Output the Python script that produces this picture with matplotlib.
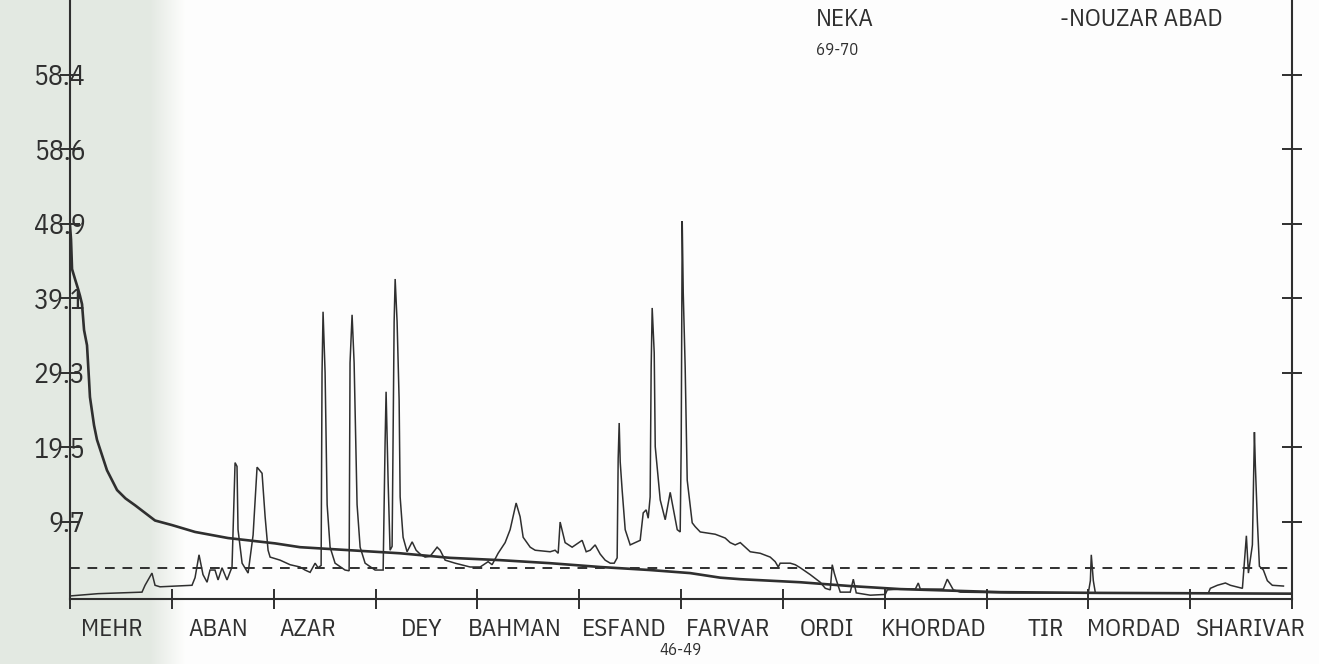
import numpy as np
import matplotlib
matplotlib.use("Agg")
import matplotlib.pyplot as plt
from matplotlib import font_manager as fm

# ---------------- data ----------------
months = ["MEHR", "ABAN", "AZAR", "DEY", "BAHMAN", "ESFAND", "FARVAR",
          "ORDI", "KHORDAD", "TIR", "MORDAD", "SHARIVAR"]
month_label_pos = [0.41, 1.46, 2.34, 3.45, 4.37, 5.44, 6.46, 7.43, 8.48, 9.58, 10.44, 11.59]

ytick_vals = [9.77, 19.54, 29.31, 39.08, 48.85, 58.62, 68.39]
ytick_labels = ["9.7", "19.5", "29.3", "39.1", "48.9", "58.6", "58.4"]

# daily discharge hydrograph (time in months from start of MEHR, value)
hydro_t = [0.000, 0.275, 0.707, 0.737, 0.805, 0.835, 0.884, 1.198, 1.228, 1.267,
           1.306, 1.346, 1.375, 1.424, 1.454, 1.493, 1.542, 1.591, 1.621, 1.640,
           1.650, 1.690, 1.749, 1.798, 1.837, 1.886, 1.916, 1.945, 1.965, 2.063,
           2.161, 2.259, 2.308, 2.358, 2.407, 2.436, 2.466, 2.475, 2.485, 2.505,
           2.525, 2.554, 2.603, 2.701, 2.741, 2.750, 2.770, 2.790, 2.819, 2.849,
           2.898, 2.996, 3.075, 3.094, 3.104, 3.124, 3.143, 3.163, 3.183, 3.193,
           3.212, 3.232, 3.242, 3.271, 3.310, 3.360, 3.399, 3.438, 3.487, 3.536,
           3.605, 3.635, 3.684, 3.782, 3.929, 4.028, 4.106, 4.145, 4.204, 4.273,
           4.322, 4.381, 4.420, 4.450, 4.519, 4.568, 4.715, 4.764, 4.794, 4.813,
           4.862, 4.931, 5.029, 5.069, 5.108, 5.157, 5.206, 5.255, 5.305, 5.344,
           5.373, 5.383, 5.393, 5.403, 5.422, 5.452, 5.501, 5.599, 5.629, 5.658,
           5.678, 5.697, 5.707, 5.717, 5.737, 5.747, 5.796, 5.845, 5.894, 5.963,
           5.992, 6.002, 6.012, 6.022, 6.041, 6.061, 6.110, 6.139, 6.189, 6.238,
           6.336, 6.434, 6.483, 6.532, 6.582, 6.631, 6.680, 6.778, 6.876, 6.925,
           6.955, 6.974, 7.073, 7.122, 7.171, 7.269, 7.367, 7.417, 7.466, 7.485,
           7.505, 7.525, 7.564, 7.662, 7.692, 7.721, 7.859, 8.006, 8.026, 8.153,
           8.301, 8.330, 8.350, 8.576, 8.615, 8.674, 8.743, 9.234, 10.000, 10.020,
           10.029, 10.049, 10.069, 11.179, 11.198, 11.267, 11.346, 11.395, 11.513, 11.552,
           11.572, 11.611, 11.631, 11.640, 11.660, 11.680, 11.719, 11.758, 11.807, 11.916]
hydro_q = [0.0, 0.3, 0.5, 1.4, 3.0, 1.4, 1.2, 1.4, 2.4, 5.4,
           2.8, 1.8, 3.4, 3.4, 2.1, 3.7, 2.1, 3.8, 17.5, 17.0,
           8.7, 4.3, 3.0, 8.0, 16.9, 16.1, 10.4, 6.0, 5.1, 4.7,
           4.1, 3.8, 3.4, 3.1, 4.3, 3.7, 4.0, 29.3, 37.3, 29.3,
           12.0, 6.4, 4.3, 3.4, 3.3, 30.6, 36.9, 30.6, 12.0, 6.4,
           4.3, 3.4, 3.4, 20.0, 26.8, 15.0, 6.0, 6.5, 36.0, 41.6,
           36.0, 25.7, 13.0, 7.7, 5.8, 7.1, 6.0, 5.5, 5.1, 5.2,
           6.4, 6.0, 4.7, 4.3, 3.8, 3.8, 4.5, 4.1, 5.6, 7.0,
           8.7, 12.2, 10.4, 7.7, 6.4, 6.0, 5.8, 6.0, 5.6, 9.7,
           7.0, 6.4, 7.3, 5.8, 6.0, 6.7, 5.5, 4.7, 4.3, 4.3,
           5.0, 18.0, 22.7, 17.6, 13.9, 8.7, 6.7, 7.3, 10.9, 11.3,
           10.2, 13.0, 30.0, 37.8, 31.9, 19.6, 12.6, 10.0, 13.6, 8.7,
           8.4, 20.0, 49.2, 39.8, 30.0, 15.2, 9.6, 9.1, 8.4, 8.3,
           8.1, 7.6, 7.0, 6.7, 7.0, 6.4, 5.8, 5.6, 5.1, 4.5,
           3.8, 4.3, 4.3, 4.1, 3.7, 2.8, 1.8, 1.0, 0.8, 4.1,
           3.0, 2.1, 0.5, 0.5, 2.2, 0.4, 0.1, 0.2, 0.8, 0.9,
           0.9, 1.7, 0.9, 0.9, 2.2, 0.8, 0.5, 0.4, 0.4, 2.0,
           5.4, 2.0, 0.4, 0.4, 1.0, 1.4, 1.7, 1.4, 1.0, 7.9,
           3.0, 6.7, 21.5, 17.2, 9.8, 3.9, 3.4, 2.0, 1.4, 1.3]

# flow-duration (sorted) curve
dur_t = [0.000, 0.010, 0.020, 0.049, 0.079, 0.098, 0.118, 0.138, 0.167, 0.187,
         0.196, 0.236, 0.265, 0.363, 0.462, 0.545, 0.639, 0.835, 1.002, 1.228, 1.552,
         2.014, 2.259, 2.750, 3.242, 3.733, 4.224, 4.715, 5.206, 5.697, 6.090,
         6.385, 6.582, 7.171, 7.662, 8.153, 9.136, 10.118, 11.100, 11.984]
dur_q = [48.6, 46.8, 42.9, 41.6, 40.3, 39.4, 38.3, 34.9, 32.9, 28.3,
         26.1, 22.4, 20.5, 16.5, 13.9, 12.8, 11.9, 9.9, 9.3, 8.4, 7.6,
         6.9, 6.4, 6.0, 5.6, 5.0, 4.7, 4.3, 3.8, 3.4, 3.0,
         2.4, 2.2, 1.8, 1.3, 0.9, 0.5, 0.4, 0.35, 0.3]

mean_q = 3.7

# ---------------- fonts ----------------
names = {f.name for f in fm.fontManager.ttflist}
narrow = "DejaVu Sans"
for cand in ["IBM Plex Sans Condensed", "Open Sans Condensed", "Liberation Sans Narrow"]:
    if cand in names:
        narrow = cand
        break
FW = "normal"
ink = "#2f2f2f"

W, H = 1319, 664
fig = plt.figure(figsize=(W / 100, H / 100), dpi=100, facecolor="white")

# scanned-paper shading on the left side
bg = fig.add_axes([0, 0, 1, 1], zorder=-5)
xs = np.arange(W)
shade = np.where(xs < 150, 0.0, np.clip((xs - 150) / 35.0, 0, 1))
c0 = np.array([0.894, 0.914, 0.890])
c1 = np.array([0.995, 0.995, 0.993])
row = c0[None, :] * (1 - shade[:, None]) + c1[None, :] * shade[:, None]
bg.imshow(row[None, :, :], extent=[0, 1, 0, 1], aspect="auto")
bg.axis("off")

left, right, bottom = 70 / W, 1292 / W, (H - 599) / H
ax = fig.add_axes([left, bottom, right - left, 1 - bottom], zorder=1)
ax.set_facecolor("none")

ax.plot(hydro_t, hydro_q, color=ink, lw=1.1, solid_joinstyle="miter")
ax.plot(dur_t, dur_q, color=ink, lw=1.9)
ax.plot([0, 11.98], [mean_q, mean_q], color=ink, lw=1.4, linestyle=(0, (5, 4)))

ax.set_xlim(0, 12)
ax.set_ylim(-0.4, 596 / 7.62)

for s in ["left", "right", "bottom"]:
    ax.spines[s].set_color(ink)
    ax.spines[s].set_linewidth(1.5)
ax.spines["top"].set_visible(False)

ax.set_xticks(range(13))
ax.set_xticklabels([""] * 13)
ax.set_xticks(month_label_pos, labels=months, minor=True)
ax.tick_params(axis="x", which="major", direction="inout", length=14, width=1.4, color=ink)
ax.tick_params(axis="x", which="minor", length=0, pad=14, labelsize=18, labelcolor=ink)
for lab in ax.get_xticklabels(minor=True):
    lab.set_family(narrow)
    lab.set_fontweight(FW)

ax.set_yticks(ytick_vals, labels=ytick_labels)
ax.tick_params(axis="y", direction="inout", length=14, width=1.4, color=ink,
               right=True, left=True, labelright=False, pad=-18, labelsize=20,
               labelcolor=ink)
for lab in ax.get_yticklabels():
    lab.set_family(narrow)
    lab.set_fontweight(FW)

ax.annotate("46-49", xy=(6.0, 0), xycoords=("data", "axes fraction"),
            xytext=(0, -37), textcoords="offset points", ha="center", va="center",
            fontsize=12, color=ink, family=narrow, fontweight=FW)

fig.text(816 / W, 1 - 19 / H, "NEKA", ha="left", va="center", fontsize=18,
         color=ink, family=narrow, fontweight=FW)
fig.text(1060 / W, 1 - 19 / H, "-NOUZAR ABAD", ha="left", va="center", fontsize=18,
         color=ink, family=narrow, fontweight=FW)
fig.text(816 / W, 1 - 50 / H, "69-70", ha="left", va="center", fontsize=12,
         color=ink, family=narrow, fontweight=FW)

fig.savefig("out.png", dpi=100, facecolor="white")
